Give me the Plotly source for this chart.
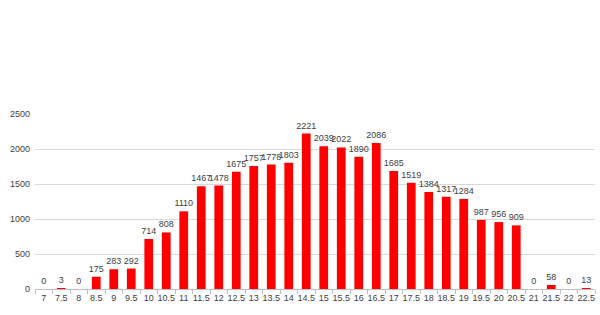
import plotly.graph_objects as go

categories = ["7", "7.5", "8", "8.5", "9", "9.5", "10", "10.5", "11", "11.5", "12", "12.5",
              "13", "13.5", "14", "14.5", "15", "15.5", "16", "16.5", "17", "17.5", "18", "18.5",
              "19", "19.5", "20", "20.5", "21", "21.5", "22", "22.5"]
values = [0, 3, 0, 175, 283, 292, 714, 808, 1110, 1467, 1478, 1675,
          1757, 1778, 1803, 2221, 2039, 2022, 1890, 2086, 1685, 1519, 1384, 1317,
          1284, 987, 956, 909, 0, 58, 0, 13]

fig = go.Figure(go.Bar(
    x=categories, y=values,
    marker=dict(color="#ff0000", line=dict(width=0)),
    text=[str(v) for v in values],
    textposition="outside",
    textfont=dict(size=9, color="#404040", family="Liberation Sans"),
    cliponaxis=False,
))

fig.update_layout(
    width=600, height=315,
    margin=dict(l=35, r=5, t=114, b=26),
    plot_bgcolor="white", paper_bgcolor="white",
    bargap=0.5,
    showlegend=False,
    font=dict(family="Liberation Sans", size=9, color="#404040"),
    uniformtext=dict(minsize=9, mode="show"),
)
fig.update_xaxes(
    type="category",
    showline=True, linecolor="#bfbfbf", linewidth=1,
    ticks="outside", tickson="boundaries", ticklen=4, tickcolor="#bfbfbf",
    showgrid=False, tickangle=0,
    tickfont=dict(size=9, color="#404040"),
)
fig.update_yaxes(
    range=[0, 2500], dtick=500,
    showgrid=True, gridcolor="#d9d9d9", gridwidth=1,
    zeroline=False, showline=False,
    tickfont=dict(size=9, color="#404040"),
    ticklabelstandoff=4,
)

fig.write_html("out.html")
